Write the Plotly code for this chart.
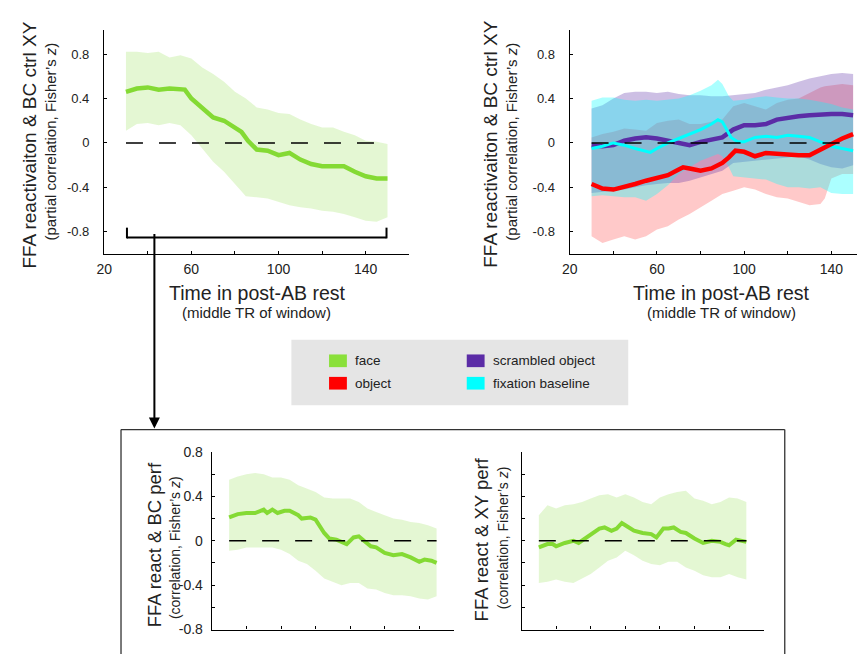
import plotly.graph_objects as go

# reference canvas size; the page body adds an 8px margin, so the figure is 8px smaller
REF_W, REF_H = 865, 658
OFF = 8
W, H = REF_W - OFF, REF_H - OFF
FONT = "Liberation Sans, Arial, sans-serif"

# ---------------- data ----------------
BAND_T = [30, 35, 40, 45, 50, 55, 60, 65, 70, 75, 80, 85, 90, 95, 100, 105, 110, 115, 120, 125, 130, 135, 140, 145, 150]

# top-left: face (partial correlation with BC ctrl XY)
TL_T = [30, 35, 40, 45, 50, 55, 57, 60, 65, 70, 75, 80, 83, 86, 90, 95, 100, 105, 110, 115, 120, 125, 130, 135, 140, 145, 150]
TL_MEAN = [0.46, 0.49, 0.50, 0.48, 0.49, 0.48, 0.48, 0.40, 0.32, 0.23, 0.20, 0.14, 0.10, 0.02, -0.06, -0.07, -0.11, -0.09, -0.15, -0.19, -0.21, -0.21, -0.21, -0.26, -0.30, -0.32, -0.32]
TL_UP = [0.82, 0.82, 0.81, 0.82, 0.77, 0.79, 0.76, 0.68, 0.62, 0.55, 0.46, 0.40, 0.32, 0.30, 0.27, 0.26, 0.21, 0.17, 0.14, 0.14, 0.10, 0.07, 0.02, 0.01, -0.01]
TL_LO = [0.11, 0.17, 0.18, 0.16, 0.18, 0.16, 0.07, -0.05, -0.17, -0.26, -0.37, -0.48, -0.49, -0.50, -0.53, -0.56, -0.58, -0.59, -0.61, -0.62, -0.64, -0.67, -0.70, -0.71, -0.67]

# top-right: object (red), scrambled object (purple), fixation baseline (cyan)
RED_T = [30, 35, 40, 45, 50, 55, 60, 65, 70, 72, 75, 80, 85, 90, 93, 96, 100, 105, 110, 115, 120, 125, 130, 135, 140, 145, 150]
RED_MEAN = [-0.37, -0.41, -0.42, -0.40, -0.37, -0.34, -0.32, -0.29, -0.24, -0.22, -0.23, -0.25, -0.23, -0.18, -0.13, -0.07, -0.08, -0.12, -0.09, -0.10, -0.11, -0.11, -0.11, -0.06, 0.00, 0.04, 0.08]
RED_BAND_T = [30, 35, 40, 45, 50, 55, 60, 65, 70, 75, 80, 85, 90, 95, 100, 105, 110, 115, 120, 125, 130, 135, 137, 140, 145, 150]
RED_UP = [0.05, 0.08, 0.10, 0.13, 0.12, 0.11, 0.18, 0.20, 0.21, 0.17, 0.17, 0.19, 0.21, 0.33, 0.36, 0.33, 0.30, 0.36, 0.39, 0.40, 0.45, 0.50, 0.51, 0.52, 0.53, 0.52]
RED_LO = [-0.84, -0.90, -0.87, -0.84, -0.87, -0.84, -0.78, -0.75, -0.69, -0.64, -0.58, -0.52, -0.46, -0.43, -0.40, -0.42, -0.46, -0.49, -0.50, -0.53, -0.56, -0.55, -0.50, -0.32, -0.28, -0.28]

PUR_MEAN = [-0.02, -0.03, -0.02, 0.02, 0.04, 0.05, 0.04, 0.02, 0.00, -0.02, 0.01, 0.03, 0.05, 0.12, 0.16, 0.16, 0.17, 0.21, 0.23, 0.24, 0.25, 0.26, 0.26, 0.26, 0.25]
PUR_UP = [0.31, 0.34, 0.40, 0.45, 0.46, 0.46, 0.45, 0.46, 0.44, 0.43, 0.43, 0.42, 0.42, 0.43, 0.44, 0.45, 0.48, 0.50, 0.52, 0.55, 0.58, 0.60, 0.62, 0.63, 0.62]
PUR_LO = [-0.45, -0.44, -0.43, -0.42, -0.40, -0.38, -0.37, -0.36, -0.36, -0.34, -0.31, -0.28, -0.25, -0.18, -0.17, -0.16, -0.15, -0.14, -0.13, -0.12, -0.15, -0.19, -0.22, -0.23, -0.20]

CY_T = [30, 35, 40, 45, 50, 55, 57, 60, 65, 70, 75, 80, 85, 88, 90, 92, 94, 97, 100, 105, 110, 115, 120, 125, 130, 135, 140, 145, 150]
CY_MEAN = [-0.05, -0.03, 0.00, -0.02, -0.05, -0.08, -0.085, -0.05, 0.00, 0.04, 0.08, 0.12, 0.17, 0.21, 0.19, 0.12, 0.05, 0.01, 0.01, 0.05, 0.06, 0.05, 0.07, 0.06, 0.05, 0.01, -0.03, -0.05, -0.07]
CY_BAND_T = [30, 35, 40, 45, 50, 55, 60, 65, 70, 75, 80, 85, 88, 90, 93, 95, 100, 105, 110, 115, 120, 125, 130, 135, 140, 145, 150]
CY_UP = [0.38, 0.41, 0.41, 0.39, 0.38, 0.39, 0.38, 0.39, 0.40, 0.43, 0.47, 0.52, 0.57, 0.53, 0.42, 0.38, 0.39, 0.41, 0.42, 0.41, 0.40, 0.40, 0.39, 0.37, 0.35, 0.32, 0.30]
CY_LO = [-0.48, -0.47, -0.48, -0.49, -0.49, -0.52, -0.46, -0.38, -0.28, -0.22, -0.16, -0.12, -0.10, -0.12, -0.22, -0.30, -0.31, -0.32, -0.33, -0.37, -0.40, -0.40, -0.41, -0.40, -0.45, -0.46, -0.46]

# bottom-left: face, correlation with BC perf
BL_T = [30, 35, 40, 45, 50, 52, 55, 58, 62, 65, 70, 72, 77, 80, 85, 88, 92, 95, 98, 102, 105, 108, 112, 115, 120, 125, 130, 135, 140, 143, 147, 150]
BL_MEAN = [0.21, 0.24, 0.25, 0.25, 0.28, 0.25, 0.28, 0.25, 0.27, 0.27, 0.23, 0.20, 0.21, 0.19, 0.07, 0.02, 0.01, -0.01, -0.03, 0.03, 0.04, 0.00, -0.05, -0.06, -0.11, -0.13, -0.12, -0.15, -0.19, -0.17, -0.18, -0.20]
BL_UP = [0.55, 0.58, 0.60, 0.61, 0.60, 0.57, 0.57, 0.55, 0.50, 0.47, 0.44, 0.39, 0.38, 0.38, 0.38, 0.35, 0.29, 0.26, 0.23, 0.20, 0.19, 0.17, 0.16, 0.14, 0.11]
BL_LO = [-0.09, -0.08, -0.06, -0.06, -0.06, -0.06, -0.08, -0.12, -0.18, -0.21, -0.27, -0.34, -0.37, -0.40, -0.38, -0.38, -0.43, -0.44, -0.47, -0.49, -0.49, -0.50, -0.52, -0.53, -0.50]

# bottom-right: face, correlation with XY perf
BR_T = [30, 35, 38, 40, 45, 50, 53, 57, 60, 65, 68, 72, 75, 78, 80, 85, 90, 95, 98, 102, 105, 108, 112, 115, 120, 125, 130, 135, 138, 140, 144, 147, 150]
BR_MEAN = [-0.06, -0.03, -0.03, -0.05, -0.02, 0.00, -0.02, 0.02, 0.06, 0.11, 0.12, 0.09, 0.11, 0.16, 0.14, 0.09, 0.07, 0.06, 0.03, 0.11, 0.11, 0.12, 0.08, 0.07, 0.02, -0.02, 0.00, -0.01, -0.03, -0.04, 0.01, 0.00, -0.01]
BR_UP = [0.23, 0.32, 0.29, 0.32, 0.33, 0.35, 0.38, 0.41, 0.42, 0.39, 0.42, 0.39, 0.35, 0.33, 0.39, 0.42, 0.44, 0.45, 0.38, 0.36, 0.33, 0.35, 0.39, 0.38, 0.35]
BR_LO = [-0.38, -0.37, -0.35, -0.37, -0.38, -0.34, -0.30, -0.24, -0.18, -0.15, -0.09, -0.13, -0.18, -0.21, -0.22, -0.19, -0.19, -0.24, -0.27, -0.31, -0.33, -0.33, -0.30, -0.33, -0.35]

ZERO_T = [30, 150]
ZERO_V = [0, 0]

TOP_XTICKS = [20, 40, 60, 80, 100, 120, 140, 160]
TOP_XTEXT = ["20", "", "60", "", "100", "", "140", ""]
TOP_YTICKS = [-0.8, -0.4, 0, 0.4, 0.8]
TOP_YTEXT = ["-0.8", "-0.4", "0", "0.4", "0.8"]
BOT_XTICKS = [20, 40, 60, 80, 100, 120, 140, 160]
BOT_YTICKS = [-0.8, -0.6, -0.4, -0.2, 0, 0.2, 0.4, 0.6, 0.8]
BOT_YTEXT = ["-0.8", "", "-0.4", "", "0", "", "0.4", "", "0.8"]

LEGEND_NAMES = ["face", "object", "scrambled object", "fixation baseline"]

# ---------------- style ----------------
GREEN = "#84da34"
RED = "#ff0000"
PURPLE = "#5b2ca6"
CYAN = "#00ffff"
GREEN_F = "rgba(134,220,56,0.22)"
RED_F = "rgba(255,0,0,0.21)"
PUR_F = "rgba(91,44,166,0.30)"
CY_F = "rgba(0,255,255,0.33)"


def px(x):
    return (x - OFF) / W


def py(y):
    return 1 - (y - OFF) / H


fig = go.Figure()


def band(t, up, lo, color, xa, ya):
    fig.add_trace(go.Scatter(x=list(t) + list(t)[::-1], y=list(up) + list(lo)[::-1],
                             fill="toself", fillcolor=color, mode="lines",
                             line=dict(width=0, color=color), hoverinfo="skip",
                             showlegend=False, xaxis=xa, yaxis=ya))


def line(t, v, color, width, xa, ya, dash=None):
    fig.add_trace(go.Scatter(x=t, y=v, mode="lines",
                             line=dict(color=color, width=width, dash=dash),
                             hoverinfo="skip", showlegend=False, xaxis=xa, yaxis=ya))


# top-left
band(BAND_T, TL_UP, TL_LO, GREEN_F, "x", "y")
line(TL_T, TL_MEAN, GREEN, 4.5, "x", "y")
line(ZERO_T, ZERO_V, "black", 1.6, "x", "y", dash="17px,16px")

# top-right
band(RED_BAND_T, RED_UP, RED_LO, RED_F, "x2", "y2")
band(BAND_T, PUR_UP, PUR_LO, PUR_F, "x2", "y2")
band(CY_BAND_T, CY_UP, CY_LO, CY_F, "x2", "y2")
line(BAND_T, PUR_MEAN, PURPLE, 4.5, "x2", "y2")
line(CY_T, CY_MEAN, CYAN, 3, "x2", "y2")
line(RED_T, RED_MEAN, RED, 4.5, "x2", "y2")
line(ZERO_T, ZERO_V, "black", 1.6, "x2", "y2", dash="17px,16px")

# bottom-left
band(BAND_T, BL_UP, BL_LO, GREEN_F, "x3", "y3")
line(BL_T, BL_MEAN, GREEN, 4, "x3", "y3")
line(ZERO_T, ZERO_V, "black", 1.6, "x3", "y3", dash="17px,16px")

# bottom-right
band(BAND_T, BR_UP, BR_LO, GREEN_F, "x4", "y4")
line(BR_T, BR_MEAN, GREEN, 4, "x4", "y4")
line(ZERO_T, ZERO_V, "black", 1.6, "x4", "y4", dash="17px,16px")

axcommon = dict(showline=True, linecolor="black", linewidth=1.4, ticks="inside",
                ticklen=3, tickcolor="black", tickwidth=1.2, showgrid=False,
                zeroline=False, fixedrange=True)

tickfont = dict(family=FONT, size=14, color="#222")
ytickfont = dict(family=FONT, size=13, color="#222")

layout_axes = dict(
    xaxis=dict(domain=[px(97), px(405)], range=[20, 160], anchor="y",
               tickvals=TOP_XTICKS, ticktext=TOP_XTEXT, tickfont=tickfont,
               ticklabelstandoff=2, **axcommon),
    yaxis=dict(domain=[py(252), py(22)], range=[-1.0, 1.02], anchor="x",
               tickvals=TOP_YTICKS, ticktext=TOP_YTEXT, tickfont=ytickfont,
               ticklabelstandoff=11, **axcommon),
    xaxis2=dict(domain=[px(567), 1.0], range=[20, 20 + (REF_W - 567) / 2.2], anchor="y2",
                tickvals=TOP_XTICKS, ticktext=TOP_XTEXT, tickfont=tickfont,
                ticklabelstandoff=2, **axcommon),
    yaxis2=dict(domain=[py(252), py(22)], range=[-1.0, 1.02], anchor="x2",
                tickvals=TOP_YTICKS, ticktext=TOP_YTEXT, tickfont=ytickfont,
                ticklabelstandoff=11, **axcommon),
    xaxis3=dict(domain=[px(205.7), px(450)], range=[20, 160], anchor="y3",
                tickvals=BOT_XTICKS, ticktext=[""] * len(BOT_XTICKS), **axcommon),
    yaxis3=dict(domain=[py(637), py(455)], range=[-0.8, 0.8], anchor="x3",
                tickvals=BOT_YTICKS, ticktext=BOT_YTEXT, tickfont=tickfont,
                ticklabelstandoff=5, **axcommon),
    xaxis4=dict(domain=[px(518.3), px(762.7)], range=[20, 160], anchor="y4",
                tickvals=BOT_XTICKS, ticktext=[""] * len(BOT_XTICKS), **axcommon),
    yaxis4=dict(domain=[py(637), py(455)], range=[-0.8, 0.8], anchor="x4",
                tickvals=BOT_YTICKS, ticktext=[""] * len(BOT_YTICKS), **axcommon),
)

annotations = []


def text(x, y, s, size, angle=0, xanchor="center"):
    annotations.append(dict(x=px(x), y=py(y), xref="paper", yref="paper", text=s,
                            showarrow=False, textangle=angle, xanchor=xanchor,
                            yanchor="middle", font=dict(family=FONT, size=size, color="#222")))


# y titles
text(22, 140, "FFA reactivaiton &amp; BC ctrl XY", 19, -90)
text(43, 137, "(partial correlation, Fisher’s <i>z</i>)", 15, -90)
text(487.5, 140, "FFA reactivaiton &amp; BC ctrl XY", 19, -90)
text(508.5, 137, "(partial correlation, Fisher’s <i>z</i>)", 15, -90)
text(148, 550, "FFA react &amp; BC perf", 18.5, -90)
text(168, 553, "(correlation, Fisher’s <i>z</i>)", 14, -90)
text(478, 545, "FFA react &amp; XY perf", 18.5, -90)
text(499, 543, "(correlation, Fisher’s <i>z</i>)", 14, -90)
# x titles
text(251, 292, "Time in post-AB rest", 19.5)
text(251, 312, "(middle TR of window)", 15)
text(720, 292, "Time in post-AB rest", 19.5)
text(720, 312, "(middle TR of window)", 15)

# legend
shapes = []
shapes.append(dict(type="rect", xref="paper", yref="paper", x0=px(286), x1=px(626),
                   y0=py(407), y1=py(340), fillcolor="#e5e5e5", line=dict(width=0), layer="below"))
leg_items = [(324, 361.5, "#8ae03a"), (324, 384.5, RED), (463, 361.5, PURPLE), (463, 384.5, CYAN)]
for (lx, ly, col), name in zip(leg_items, LEGEND_NAMES):
    shapes.append(dict(type="rect", xref="paper", yref="paper", x0=px(lx), x1=px(lx + 18),
                       y0=py(ly + 6.5), y1=py(ly - 6.5), fillcolor=col, line=dict(width=0)))
    text(lx + 24, ly, name, 13.5, 0, "left")


def seg(x0, y0, x1, y1, w=2, col="black"):
    shapes.append(dict(type="line", xref="paper", yref="paper", x0=px(x0), y0=py(y0),
                       x1=px(x1), y1=py(y1), line=dict(color=col, width=w)))


# bracket + arrow
seg(120, 235, 382, 235)
seg(120, 225, 120, 236)
seg(382, 225, 382, 236)
annotations.append(dict(x=px(147.7), y=py(431), xref="paper", yref="paper", ax=0, ay=-196,
                        axref="pixel", ayref="pixel", text="", showarrow=True,
                        arrowhead=2, arrowsize=1.1, arrowwidth=2, arrowcolor="black"))
# bottom box
seg(114, 432, 784, 432, 1.3, "#333")
seg(114, 432, 114, 662, 1.3, "#333")
seg(784, 432, 784, 662, 1.3, "#333")

fig.update_layout(width=W, height=H, margin=dict(l=0, r=0, t=0, b=0),
                  paper_bgcolor="white", plot_bgcolor="rgba(0,0,0,0)",
                  showlegend=False, annotations=annotations, shapes=shapes,
                  font=dict(family=FONT), **layout_axes)

fig.write_html("out.html")
